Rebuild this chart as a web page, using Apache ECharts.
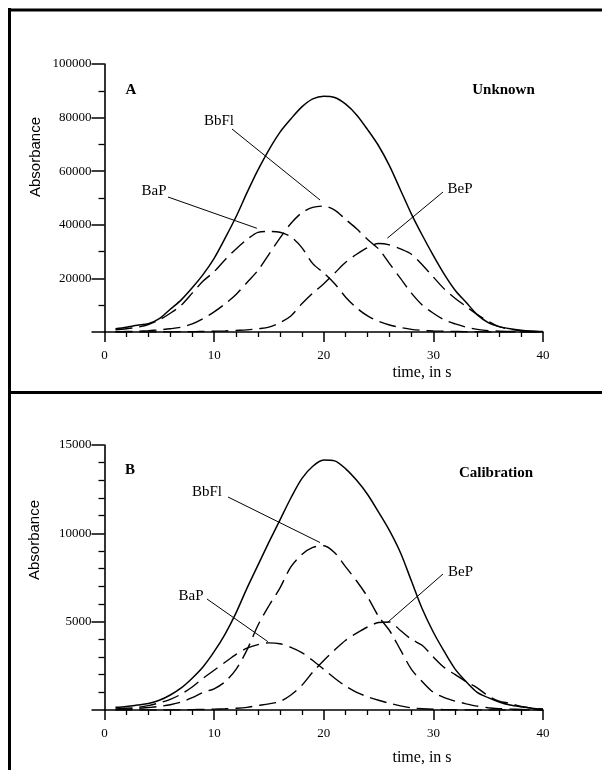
<!DOCTYPE html>
<html><head><meta charset="utf-8">
<script src="https://cdn.jsdelivr.net/npm/echarts/dist/echarts.min.js"></script>
<style>html,body{margin:0;padding:0;background:#fff}#c{width:602px;height:770px}</style>
</head><body><div id="c"></div>
<script>
// ---- data (time in s, absorbance) ----
const time = [1,2,3,4,5,6,7,8,9,10,11,12,13,14,15,16,17,18,19,20,21,22,23,24,25,26,27,28,29,30,31,32,33,34,35,36,37,38,39,40];

// Panel A: Unknown
const unknownTotal = [1200,1800,2500,3100,5000,8500,12000,16500,21500,27500,35000,43000,52000,60500,68000,74500,79500,84000,87000,88000,87500,85000,81000,75500,69500,62000,53000,44000,36000,28500,21500,15500,11000,6500,3500,2000,1200,700,400,200];
const unknownBaP   = [800,1200,1800,2800,4500,7000,10000,14500,19000,22500,27000,31000,34500,37200,37500,37200,35500,31500,25500,22000,18000,13000,9000,6000,4000,2600,1700,1000,600,400,300,200,100,100,0,0,0,0,0,0];
const unknownBbFl  = [100,200,300,500,800,1200,1800,3000,5000,7500,10500,14000,18500,23000,29000,35000,40500,44500,46500,47000,45500,42000,38500,34500,31000,25500,20000,14500,10000,7000,4500,3000,1800,1000,500,300,200,100,0,0];
const unknownBeP   = [0,0,0,0,0,0,100,100,200,300,400,600,800,1200,1800,3500,6000,10500,14500,18000,22000,26000,29000,31500,33000,32500,31000,29000,25000,20500,16000,12500,9500,6500,4000,2000,1000,500,200,100];

// Panel B: Calibration
const calibTotal = [150,200,280,370,550,850,1250,1800,2450,3300,4300,5500,6900,8200,9500,10750,12000,13100,13800,14150,14100,13650,13000,12200,11200,10150,8900,7300,5700,4400,3300,2300,1600,1000,700,450,280,180,100,50];
const calibBaP   = [60,100,150,250,400,600,900,1300,1800,2250,2700,3150,3500,3700,3800,3750,3550,3250,2800,2300,1800,1350,1000,750,550,380,230,120,70,40,20,10,0,0,0,0,0,0,0,0];
const calibBbFl  = [30,50,90,140,200,300,450,700,1000,1200,1600,2300,3400,4800,5900,6900,8100,8800,9200,9300,8900,8100,7300,6400,5300,4500,3400,2300,1600,1000,700,500,350,220,130,80,50,30,10,0];
const calibBeP   = [0,0,0,0,0,0,10,20,30,50,70,100,150,250,350,480,850,1400,2150,2800,3400,3950,4350,4700,4950,4980,4500,4000,3650,3000,2400,2000,1600,1250,800,500,380,200,100,50];

// axes
const xRange = [0, 40], xStep = 10;
const yRangeA = [0, 100000], yStepA = 20000;
const yRangeB = [0, 15000], yStepB = 5000;

// annotation labels and anchor points (data space)
const compNames = ['BbFl', 'BaP', 'BeP'];
const anchorsA = [[19.66, 49250], [13.9, 38700], [25.8, 35000]];
const anchorsB = [[19.66, 9480], [14.9, 3870], [25.8, 4950]];

// ---- chart ----
const chart = echarts.init(document.getElementById('c'), null, {renderer: 'canvas'});
const black = '#000';
const serif = '"Liberation Serif", "Times New Roman", serif';
const sans = '"Liberation Sans", Arial, sans-serif';

function xAx(gi) {
  return {
    type: 'value', gridIndex: gi, min: xRange[0], max: xRange[1], interval: xStep,
    axisLine: {show: true, onZero: false, lineStyle: {color: black, width: 1.6}},
    axisTick: {show: true, length: 10, lineStyle: {color: black, width: 1.5}},
    minorTick: {show: true, splitNumber: 5, length: 5, lineStyle: {color: black, width: 1.3}},
    splitLine: {show: false}, minorSplitLine: {show: false},
    axisLabel: {color: black, fontFamily: serif, fontSize: 13, margin: 17}
  };
}
function yAx(gi, range, step, minorSplit) {
  return {
    type: 'value', gridIndex: gi, min: range[0], max: range[1], interval: step,
    axisLine: {show: true, onZero: false, lineStyle: {color: black, width: 1.6}},
    axisTick: {show: true, length: 13, lineStyle: {color: black, width: 1.5}},
    minorTick: {show: true, splitNumber: minorSplit, length: 6, lineStyle: {color: black, width: 1.3}},
    splitLine: {show: false}, minorSplitLine: {show: false},
    axisLabel: {color: black, fontFamily: serif, fontSize: 13, margin: 13,
      formatter: v => v === 0 ? '' : String(v)}
  };
}
function ser(gi, vals, dashed) {
  return {
    type: 'line', xAxisIndex: gi, yAxisIndex: gi,
    data: time.map((t, i) => [t, vals[i]]),
    showSymbol: false, symbol: 'none', smooth: 0.3, silent: true,
    lineStyle: {color: black, width: dashed ? 1.4 : 1.5, type: dashed ? [17, 7] : 'solid'},
    z: 3
  };
}

const option = {
  animation: false,
  backgroundColor: '#fff',
  grid: [
    {left: 104.5, top: 64, width: 438.5, height: 268},
    {left: 104.5, top: 445, width: 438.5, height: 265}
  ],
  xAxis: [xAx(0), xAx(1)],
  yAxis: [yAx(0, yRangeA, yStepA, 2), yAx(1, yRangeB, yStepB, 5)],
  series: [
    ser(0, unknownTotal, false), ser(0, unknownBaP, true), ser(0, unknownBbFl, true), ser(0, unknownBeP, true),
    ser(1, calibTotal, false), ser(1, calibBaP, true), ser(1, calibBbFl, true), ser(1, calibBeP, true)
  ]
};
chart.setOption(option);

// ---- annotations (layout) ----
const labelPosA = [[219, 121], [154, 191.5], [460, 189]];
const leaderStartA = [[232, 129], [168, 197], [443, 192]];
const labelPosB = [[207, 492], [191, 596], [460.5, 572.5]];
const leaderStartB = [[228, 497], [207, 599], [443, 574]];

const g = [];
function line(x1, y1, x2, y2, w) {
  g.push({type: 'line', shape: {x1, y1, x2, y2}, style: {stroke: black, lineWidth: w}, silent: true, z: 10});
}
function text(s, x, y, font, rot) {
  g.push({type: 'text', x, y, rotation: rot || 0, silent: true, z: 10,
    style: {text: s, font: font, fill: black, textAlign: 'center', textVerticalAlign: 'middle'}});
}
// frame
line(9.5, 8, 9.5, 770, 3);
line(8, 10, 602, 10, 3);
line(8, 392.5, 602, 392.5, 3);

// panel texts
text('A', 131, 90, 'bold 15px ' + serif);
text('Unknown', 503.5, 90, 'bold 15px ' + serif);
text('B', 130, 470, 'bold 15px ' + serif);
text('Calibration', 496, 473, 'bold 15px ' + serif);
text('Absorbance', 36, 157, '15px ' + sans, Math.PI / 2);
text('Absorbance', 35, 540, '15px ' + sans, Math.PI / 2);
text('time, in s', 422, 373, '16px ' + serif);
text('time, in s', 422, 758, '16px ' + serif);

compNames.forEach((n, i) => {
  text(n, labelPosA[i][0], labelPosA[i][1], '15px ' + serif);
  const pa = chart.convertToPixel({gridIndex: 0}, anchorsA[i]);
  line(leaderStartA[i][0], leaderStartA[i][1], pa[0], pa[1], 1);
  text(n, labelPosB[i][0], labelPosB[i][1], '15px ' + serif);
  const pb = chart.convertToPixel({gridIndex: 1}, anchorsB[i]);
  line(leaderStartB[i][0], leaderStartB[i][1], pb[0], pb[1], 1);
});
chart.setOption({graphic: g});
</script>
</body></html>
